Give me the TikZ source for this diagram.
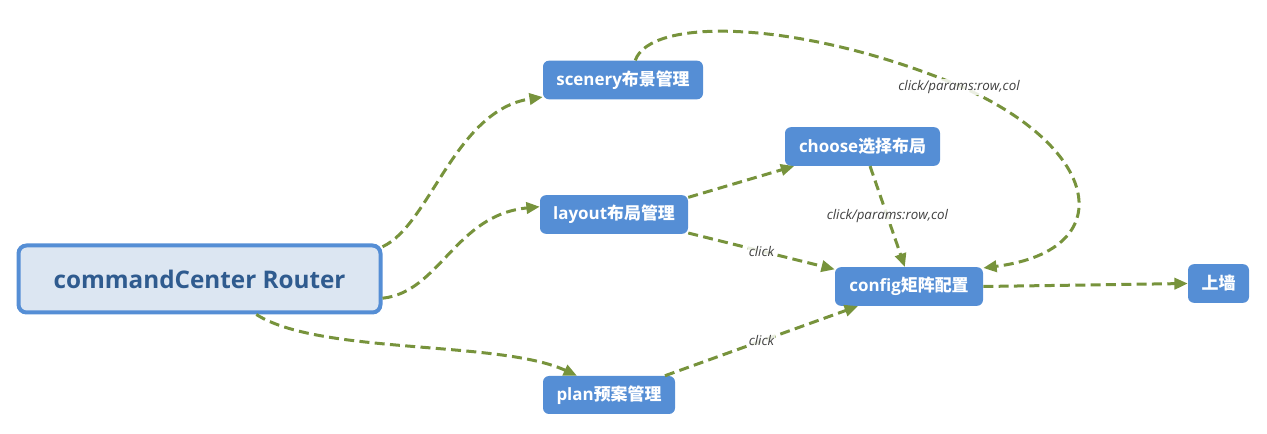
\documentclass[tikz,border=0pt]{standalone}
\usepackage{fontspec}
\setmainfont{Open Sans}
\newfontfamily\cjk{Noto Sans CJK SC}
\usetikzlibrary{arrows.meta}
\definecolor{nodeblue}{HTML}{558ED5}
\definecolor{rootfill}{HTML}{DCE6F2}
\definecolor{roottext}{HTML}{2F5B8F}
\definecolor{edgegreen}{HTML}{77933C}
\definecolor{labelgray}{HTML}{404040}
\begin{document}
\begin{tikzpicture}[x=0.75pt,y=-0.75pt,
  box/.style={fill=nodeblue, rounded corners=4.5pt, text=white, inner sep=0pt,
    font=\bfseries\fontsize{12.7}{15}\selectfont, minimum height=29pt},
  rootbox/.style={fill=rootfill, draw=nodeblue, line width=3pt, rounded corners=6pt,
    text=roottext, inner sep=0pt, font=\bfseries\fontsize{18.2}{22}\selectfont,
    minimum width=271.5pt, minimum height=50.25pt},
  link/.style={draw=edgegreen, line width=2.25pt, dash pattern=on 7.5pt off 4pt,
    -{Triangle[length=10pt,width=8.5pt]}},
  lbl/.style={font=\itshape\fontsize{10}{12}\selectfont, text=labelgray,
    fill=white, fill opacity=0.85, text opacity=1, inner sep=1pt}
]
\useasboundingbox (0,0) rectangle (1267,434);

\node[rootbox] (root) at (199.5,279) {commandCenter Router};
\node[box, minimum width=120pt] (scen) at (623,80) {scenery{\cjk 布景管理}};
\node[box, minimum width=111pt] (lay) at (614,214.5) {layout{\cjk 布局管理}};
\node[box, minimum width=116.25pt] (choose) at (862.5,146.5) {choose{\cjk 选择布局}};
\node[box, minimum width=111pt] (conf) at (909,286.5) {config{\cjk 矩阵配置}};
\node[box, minimum width=45.75pt] (wall) at (1218.5,283.5) {\cjk 上墙};
\node[box, minimum width=99pt, minimum height=28.5pt] (plan) at (609,395) {plan{\cjk 预案管理}};

\draw[link] (root.10.5) .. controls (430,225) and (455,110) .. (scen.192);
\draw[link] (root.-6) .. controls (440,292) and (455,215) .. (lay.174);
\draw[link] (root.-32) .. controls (320,355) and (500,340) .. (plan.149);
\draw[link] (scen.58) .. controls (650,18) and (790,20) .. (940,78)
  .. controls (1102,140) and (1125,250) .. (conf.14);
\node[lbl] (lblscen) at (959,87) {click/params:row,col};
\draw[link] (lay.13) -- (choose.196);
\draw[link] (lay.-14) -- node[lbl] {click} (conf.167);
\draw[link] (choose.-69) -- node[lbl] {click/params:row,col} (conf.102);
\draw[link] (plan.19) -- node[lbl] {click} (conf.201);
\draw[link] (conf.east) -- (wall.west);
\end{tikzpicture}
\end{document}
